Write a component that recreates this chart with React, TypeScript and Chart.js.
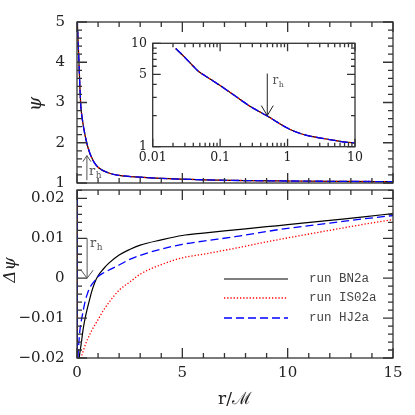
import React, { useEffect, useRef } from "react";
import { Chart, registerables } from "chart.js";
Chart.register(...registerables);

// ---------- data ----------
const seriesNames = ["run BN2a", "run IS02a", "run HJ2a"];

// top panel: psi vs r
const rPsi = [0.01, 0.02, 0.035, 0.05, 0.07, 0.1, 0.14, 0.18, 0.25, 0.34, 0.5, 0.75, 1, 1.5, 2, 3, 4, 6, 8, 10, 12.5, 15];
const psiBN2a = [6.0, 5.0, 4.75, 4.5, 4.3, 3.9, 3.35, 2.92, 2.6, 2.3, 1.92, 1.57, 1.39, 1.25, 1.19, 1.145, 1.115, 1.08, 1.06, 1.05, 1.04, 1.035];
const psiIS02a = [6.0, 5.0, 4.75, 4.5, 4.3, 3.9, 3.35, 2.92, 2.6, 2.3, 1.92, 1.57, 1.39, 1.25, 1.19, 1.145, 1.115, 1.08, 1.06, 1.05, 1.04, 1.035];
const psiHJ2a = [6.0, 5.0, 4.75, 4.5, 4.3, 3.9, 3.35, 2.92, 2.6, 2.3, 1.92, 1.57, 1.39, 1.25, 1.19, 1.145, 1.115, 1.08, 1.06, 1.05, 1.04, 1.035];

// inset: log-log psi vs r
const rInset = [0.022, 0.03, 0.04, 0.047, 0.07, 0.1, 0.2, 0.28, 0.5, 0.7, 1, 1.5, 2, 3.4, 5, 7, 10];
const psiInsetBN2a = [8.9, 7.3, 6.0, 5.4, 4.55, 3.9, 2.85, 2.45, 1.98, 1.73, 1.51, 1.35, 1.28, 1.2, 1.15, 1.11, 1.09];
const psiInsetIS02a = [8.9, 7.3, 6.0, 5.4, 4.55, 3.9, 2.85, 2.45, 1.98, 1.73, 1.51, 1.35, 1.28, 1.2, 1.15, 1.11, 1.09];
const psiInsetHJ2a = [8.9, 7.3, 6.0, 5.4, 4.55, 3.9, 2.85, 2.45, 1.98, 1.73, 1.51, 1.35, 1.28, 1.2, 1.15, 1.11, 1.09];

// bottom panel: delta psi vs r
const rDelta = [0.005, 0.02, 0.05, 0.08, 0.11, 0.15, 0.2, 0.3, 0.4, 0.5, 0.6, 0.7, 0.85, 1.0, 1.25, 1.5, 2, 2.5, 3, 4, 5, 6, 7.5, 9, 10, 12, 13.5, 15];
const dPsiBN2a = [0.05, -0.06, -0.03, -0.024, -0.02, -0.0182, -0.0164, -0.0125, -0.0097, -0.0074, -0.0053, -0.0033, -0.001, 0.0006, 0.0023, 0.0037, 0.0058, 0.0072, 0.0083, 0.0096, 0.0107, 0.0113, 0.0121, 0.0129, 0.0134, 0.0145, 0.0153, 0.0162];
const dPsiIS02a = [0.05, -0.05, -0.03, -0.025, -0.0225, -0.021, -0.0198, -0.0182, -0.0166, -0.0153, -0.0142, -0.0131, -0.0117, -0.0104, -0.0081, -0.0062, -0.003, -0.001, 0.001, 0.0034, 0.0051, 0.006, 0.0075, 0.0091, 0.0101, 0.012, 0.0134, 0.0147];
const dPsiHJ2a = [0.05, -0.03, -0.0198, -0.0168, -0.0147, -0.0125, -0.0108, -0.008, -0.0055, -0.0038, -0.0025, -0.0016, -0.0006, 0.0004, 0.0013, 0.002, 0.0033, 0.0047, 0.0057, 0.0073, 0.0085, 0.0093, 0.0104, 0.0117, 0.0125, 0.0138, 0.0148, 0.0157];

// tick labels
const mainXTicks = [0, 5, 10, 15];
const mainXLabels = ["0", "5", "10", "15"];
const topYTicks = [1, 2, 3, 4, 5];
const topYLabels = ["1", "2", "3", "4", "5"];
const bottomYTicks = [-0.02, -0.01, 0, 0.01, 0.02];
const bottomYLabels = ["\u22120.02", "\u22120.01", "0", "0.01", "0.02"];
const insetXTicks = [0.01, 0.1, 1, 10];
const insetXLabels = ["0.01", "0.1", "1", "10"];
const insetYTicks = [1, 5, 10];
const insetYLabels = ["1", "5", "10"];

// ---------- styles ----------
const SERIF = '"DejaVu Serif", "Liberation Serif", serif';
const MONO = '"Liberation Mono", "DejaVu Sans Mono", monospace';
const FRAME = "#333";
const ANNOT = "#555";
const lineStyles = [
  { borderColor: "#000000", borderWidth: 1.2, borderDash: [] as number[], order: 3 },
  { borderColor: "#ff0000", borderWidth: 1.3, borderDash: [1.3, 1.9], order: 2 },
  { borderColor: "#0000ff", borderWidth: 1.3, borderDash: [8, 4], order: 1 },
];

type Tick = { v: number; major: boolean };

function pts(xs: number[], ys: number[]) {
  return xs.map((x, i) => ({ x, y: ys[i] }));
}

function makeDatasets(xs: number[], series: number[][]) {
  return series.map((ys, i) => ({
    label: seriesNames[i],
    data: pts(xs, ys),
    ...lineStyles[i],
    pointRadius: 0,
    fill: false,
    cubicInterpolationMode: "monotone" as const,
    clip: 0,
  }));
}

function linTicks(min: number, max: number, step: number, majorEvery: number): Tick[] {
  const out: Tick[] = [];
  const n = Math.round((max - min) / step);
  for (let k = 0; k <= n; k++) {
    const v = min + k * step;
    const idx = Math.round(v / step);
    out.push({ v, major: idx % majorEvery === 0 });
  }
  return out;
}

function drawArrow(ctx: CanvasRenderingContext2D, x: number, yTail: number, yTip: number, w: number, h: number) {
  const dir = yTip < yTail ? 1 : -1;
  ctx.beginPath();
  ctx.moveTo(x, yTail);
  ctx.lineTo(x, yTip);
  ctx.moveTo(x - w, yTip + dir * h);
  ctx.lineTo(x, yTip);
  ctx.lineTo(x + w, yTip + dir * h);
  ctx.stroke();
}

function drawRh(ctx: CanvasRenderingContext2D, x: number, y: number, size: number) {
  ctx.fillStyle = ANNOT;
  ctx.textAlign = "left";
  ctx.textBaseline = "alphabetic";
  ctx.font = `${size}px ${SERIF}`;
  ctx.fillText("r", x, y);
  const w = ctx.measureText("r").width;
  ctx.font = `${Math.round(size * 0.7)}px ${SERIF}`;
  ctx.fillText("h", x + w + 0.5, y + size * 0.25);
}

type FrameCfg = {
  xTicks: Tick[];
  yTicks: Tick[];
  majorLen: number;
  minorLen: number;
  yMajorLen?: number;
  whiteBg?: boolean;
  draw?: (chart: any) => void;
};

function framePlugin(cfg: FrameCfg) {
  return {
    id: "frame",
    beforeDatasetsDraw(chart: any) {
      if (!cfg.whiteBg) return;
      const { ctx, chartArea: a } = chart;
      ctx.save();
      ctx.fillStyle = "#fff";
      ctx.fillRect(a.left, a.top, a.right - a.left, a.bottom - a.top);
      ctx.restore();
    },
    afterDatasetsDraw(chart: any) {
      const { ctx, chartArea: a, scales } = chart;
      const xs = scales.x, ys = scales.y;
      ctx.save();
      ctx.strokeStyle = FRAME;
      ctx.lineWidth = 1.3;
      ctx.strokeRect(a.left, a.top, a.right - a.left, a.bottom - a.top);
      ctx.beginPath();
      for (const t of cfg.xTicks) {
        const px = xs.getPixelForValue(t.v);
        if (px < a.left - 0.5 || px > a.right + 0.5) continue;
        const L = t.major ? cfg.majorLen : cfg.minorLen;
        ctx.moveTo(px, a.bottom);
        ctx.lineTo(px, a.bottom - L);
        ctx.moveTo(px, a.top);
        ctx.lineTo(px, a.top + L);
      }
      for (const t of cfg.yTicks) {
        const py = ys.getPixelForValue(t.v);
        if (py < a.top - 0.5 || py > a.bottom + 0.5) continue;
        const L = t.major ? (cfg.yMajorLen ?? cfg.majorLen) : cfg.minorLen;
        ctx.moveTo(a.left, py);
        ctx.lineTo(a.left + L, py);
        ctx.moveTo(a.right, py);
        ctx.lineTo(a.right - L, py);
      }
      ctx.stroke();
      ctx.restore();
      if (cfg.draw) {
        ctx.save();
        cfg.draw(chart);
        ctx.restore();
      }
    },
  };
}

function baseOptions(padding: any, x: any, y: any) {
  return {
    animation: false as const,
    responsive: false,
    events: [] as any[],
    layout: { padding },
    scales: { x: { ...x, display: false }, y: { ...y, display: false } },
    plugins: { legend: { display: false }, tooltip: { enabled: false } },
  };
}

function drawXLabels(chart: any, ticks: number[], labels: string[], y: number, font: string) {
  const { ctx, scales } = chart;
  ctx.fillStyle = "#222";
  ctx.font = font;
  ctx.textAlign = "center";
  ctx.textBaseline = "middle";
  ticks.forEach((v, i) => ctx.fillText(labels[i], scales.x.getPixelForValue(v), y));
}

function drawYLabels(chart: any, ticks: number[], labels: string[], x: number, font: string) {
  const { ctx, scales } = chart;
  ctx.fillStyle = "#222";
  ctx.font = font;
  ctx.textAlign = "right";
  ctx.textBaseline = "middle";
  ticks.forEach((v, i) => ctx.fillText(labels[i], x, scales.y.getPixelForValue(v)));
}

function drawRotated(ctx: CanvasRenderingContext2D, text: string, x: number, y: number, font: string) {
  ctx.save();
  ctx.translate(x, y);
  ctx.rotate(-Math.PI / 2);
  ctx.fillStyle = "#222";
  ctx.font = font;
  ctx.textAlign = "center";
  ctx.textBaseline = "middle";
  ctx.fillText(text, 0, 0);
  ctx.restore();
}

export default function App() {
  const topRef = useRef<HTMLCanvasElement>(null);
  const bottomRef = useRef<HTMLCanvasElement>(null);
  const insetRef = useRef<HTMLCanvasElement>(null);

  useEffect(() => {
    const charts: Chart[] = [];
    const mainX = { type: "linear", min: 0, max: 15 };
    const xTicksMain = linTicks(0, 15, 1, 5);

    // ---- top panel ----
    charts.push(
      new Chart(topRef.current!, {
        type: "line",
        data: { datasets: makeDatasets(rPsi, [psiBN2a, psiIS02a, psiHJ2a]) as any },
        options: baseOptions({ left: 77, right: 22, top: 22, bottom: 232 }, mainX, { type: "linear", min: 1, max: 5 }) as any,
        plugins: [
          framePlugin({
            xTicks: xTicksMain,
            yTicks: linTicks(1, 5, 0.2, 5),
            majorLen: 10,
            minorLen: 5,
            draw: (chart) => {
              const { ctx, scales } = chart;
              drawYLabels(chart, topYTicks, topYLabels, 65, `15px ${SERIF}`);
              drawRotated(ctx, "\u03C8", 36, 104, `italic 18px ${SERIF}`);
              ctx.strokeStyle = ANNOT;
              ctx.lineWidth = 1;
              const ax = scales.x.getPixelForValue(0.47);
              drawArrow(ctx, ax, scales.y.getPixelForValue(1.07), scales.y.getPixelForValue(1.68), 4, 6);
              drawRh(ctx, 89, 175, 13);
            },
          }),
        ],
      } as any)
    );

    // ---- inset ----
    const insetX: Tick[] = [];
    for (const d of [-2, -1, 0]) for (let k = 1; k <= 9; k++) insetX.push({ v: k * Math.pow(10, d), major: k === 1 });
    insetX.push({ v: 10, major: true });
    const insetY: Tick[] = [];
    for (let k = 1; k <= 10; k++) insetY.push({ v: k, major: k === 1 || k === 5 || k === 10 });
    charts.push(
      new Chart(insetRef.current!, {
        type: "line",
        data: { datasets: makeDatasets(rInset, [psiInsetBN2a, psiInsetIS02a, psiInsetHJ2a]) as any },
        options: baseOptions(
          { left: 152.7, right: 60, top: 43.3, bottom: 268.3 },
          { type: "logarithmic", min: 0.01, max: 10 },
          { type: "logarithmic", min: 1, max: 10 }
        ) as any,
        plugins: [
          framePlugin({
            xTicks: insetX,
            yTicks: insetY,
            majorLen: 8,
            minorLen: 4,
            whiteBg: true,
            draw: (chart) => {
              const { ctx, scales } = chart;
              drawXLabels(chart, insetXTicks, insetXLabels, 158, `12.5px ${SERIF}`);
              drawYLabels(chart, insetYTicks, insetYLabels, 147, `12.5px ${SERIF}`);
              ctx.strokeStyle = "#222";
              ctx.lineWidth = 1;
              const ax = scales.x.getPixelForValue(0.5);
              drawArrow(ctx, ax, scales.y.getPixelForValue(5.1), scales.y.getPixelForValue(2.0), 6, 10);
              drawRh(ctx, 272.5, 84, 12);
            },
          }),
        ],
      } as any)
    );

    // ---- bottom panel ----
    charts.push(
      new Chart(bottomRef.current!, {
        type: "line",
        data: { datasets: makeDatasets(rDelta, [dPsiBN2a, dPsiIS02a, dPsiHJ2a]) as any },
        options: baseOptions({ left: 77, right: 22, top: 190, bottom: 57 }, mainX, { type: "linear", min: -0.02, max: 0.0221 }) as any,
        plugins: [
          framePlugin({
            xTicks: xTicksMain,
            yTicks: linTicks(-0.02, 0.022, 0.002, 5),
            majorLen: 10,
            minorLen: 5,
            draw: (chart) => {
              const { ctx, scales } = chart;
              drawYLabels(chart, bottomYTicks, bottomYLabels, 64.5, `15px ${SERIF}`);
              drawXLabels(chart, mainXTicks, mainXLabels, 373, `15px ${SERIF}`);
              drawRotated(ctx, "\u0394\u03C8", 11, 270, `italic 17px ${SERIF}`);
              ctx.fillStyle = "#222";
              ctx.font = `17px ${SERIF}`;
              ctx.textAlign = "center";
              ctx.textBaseline = "middle";
              ctx.fillText("r/\u2133", 235, 400);
              ctx.strokeStyle = ANNOT;
              ctx.lineWidth = 1;
              const ax = scales.x.getPixelForValue(0.48);
              drawArrow(ctx, ax, scales.y.getPixelForValue(0.01), scales.y.getPixelForValue(0), 6, 8);
              drawRh(ctx, 90, 247, 13);
              // legend
              const ly = [279, 298, 318];
              seriesNames.forEach((name, i) => {
                const st = lineStyles[i];
                ctx.save();
                ctx.strokeStyle = st.borderColor;
                ctx.lineWidth = st.borderWidth;
                ctx.setLineDash(st.borderDash);
                ctx.beginPath();
                ctx.moveTo(224, ly[i]);
                ctx.lineTo(288, ly[i]);
                ctx.stroke();
                ctx.restore();
                ctx.fillStyle = "#444";
                ctx.font = `12.5px ${MONO}`;
                ctx.textAlign = "left";
                ctx.textBaseline = "middle";
                ctx.fillText(name, 309, ly[i]);
              });
            },
          }),
        ],
      } as any)
    );

    return () => charts.forEach((c) => c.destroy());
  }, []);

  const cs: React.CSSProperties = { position: "absolute", left: 0, top: 0, display: "block" };
  return (
    <div style={{ position: "fixed", left: 0, top: 0, width: 415, height: 415, background: "#fff" }}>
      <canvas ref={topRef} width={415} height={415} style={cs} />
      <canvas ref={bottomRef} width={415} height={415} style={cs} />
      <canvas ref={insetRef} width={415} height={415} style={cs} />
    </div>
  );
}
